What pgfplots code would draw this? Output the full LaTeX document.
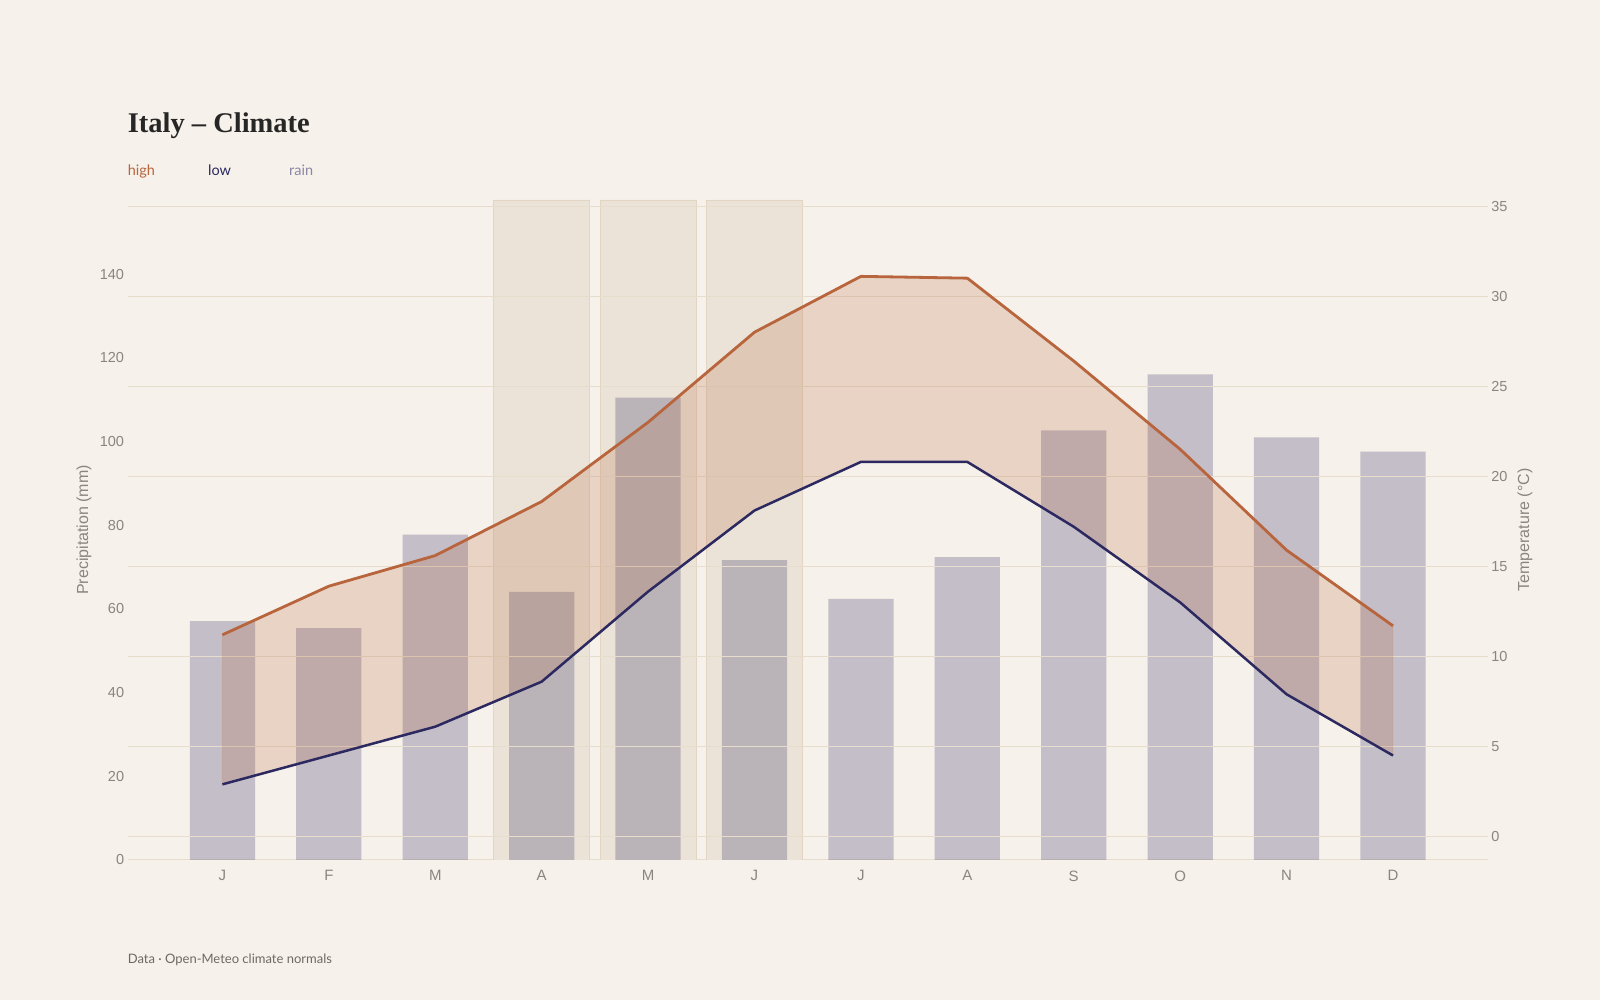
\documentclass[border=0pt]{standalone}
\usepackage{pgfplots}
\usepackage{pgfplotstable}
\pgfplotsset{compat=1.18}
\usepackage{fontspec}
\setmainfont{Liberation Sans}
\newfontfamily\titlefont{Liberation Serif}
\newfontfamily\labfont{Lato}

\definecolor{bg}{HTML}{F6F1EA}
\definecolor{hi}{HTML}{B8643C}
\definecolor{lo}{HTML}{2B2960}
\definecolor{rainc}{HTML}{8A87A6}
\definecolor{band}{HTML}{EBE3D7}
\definecolor{bandedge}{HTML}{E2D6C3}
\definecolor{gridc}{HTML}{E6DDCC}
\definecolor{tickc}{HTML}{8A857F}
\definecolor{srcc}{HTML}{6E6963}

% month index, precipitation (mm), high / low temperature (C)
\pgfplotstableread{
m rain high low
0  57.1 11.2  2.9
1  55.4 13.9  4.5
2  77.8 15.6  6.1
3  64.1 18.6  8.6
4 110.5 23.0 13.6
5  71.7 28.0 18.1
6  62.4 31.1 20.8
7  72.4 31.0 20.8
8 102.7 26.4 17.2
9 116.1 21.5 13.0
10 101.0 15.9  7.9
11  97.6 11.7  4.5
}\climate

% outline of the high-low range: highs Jan->Dec, then lows Dec->Jan
\pgfplotstableread{
m t
0 11.2
1 13.9
2 15.6
3 18.6
4 23.0
5 28.0
6 31.1
7 31.0
8 26.4
9 21.5
10 15.9
11 11.7
11 4.5
10 7.9
9 13.0
8 17.2
7 20.8
6 20.8
5 18.1
4 13.6
3 8.6
2 6.1
1 4.5
0 2.9
}\range

% highlighted months (A, M, J)
\pgfplotstableread{
m top
3 157.76
4 157.76
5 157.76
}\bands

\pgfplotsset{
  base/.style={
    at={(127.6pt,140pt)}, anchor=south west,
    width=1360.2pt, height=660pt, scale only axis,
    xmin=-0.891, xmax=11.891,
    major tick length=0pt,
    /pgf/number format/assume math mode=true,
    ticklabel style={font=\fontsize{14.5}{16}\selectfont, text=tickc},
    label style={font=\fontsize{16}{18}\selectfont, text=tickc},
  }
}

\begin{document}
\begin{tikzpicture}[x=1pt,y=1pt]
\fill[bg] (0,0) rectangle (1600,1000);

\node[anchor=base west, inner sep=0pt, text=black!85]
  at (127.6,867) {\titlefont\bfseries\fontsize{28.5}{32}\selectfont Italy – Climate};
\node[anchor=base west, inner sep=0pt, text=hi]
  at (127.6,824) {\labfont\fontsize{14.5}{16}\selectfont high};
\node[anchor=base west, inner sep=0pt, text=lo]
  at (208,824) {\labfont\fontsize{14.5}{16}\selectfont low};
\node[anchor=base west, inner sep=0pt, text=rainc]
  at (289,824) {\labfont\fontsize{14.5}{16}\selectfont rain};
\node[anchor=base west, inner sep=0pt, text=srcc]
  at (127.6,36) {\labfont\fontsize{13}{15}\selectfont Data · Open-Meteo climate normals};

% left axis: precipitation bars
\begin{axis}[base,
  ymin=0, ymax=157.76,
  axis x line*=bottom, axis y line*=left,
  y axis line style={draw=none},
  x axis line style={draw=gridc, line width=1pt},
  xtick={0,...,11},
  xticklabels={J,F,M,A,M,J,J,A,S,O,N,D},
  xticklabel style={yshift=-7pt, font=\fontsize{15}{17}\selectfont},
  ytick={0,20,...,140},
  ylabel={Precipitation (mm)},
  ylabel style={at={(axis description cs:-0.0321,0.5)}, anchor=center},
]
\addplot[ybar, bar shift=0pt, bar width=95.8pt, fill=band, draw=bandedge, line width=0.8pt]
  table[x=m, y=top] {\bands};
\addplot[ybar, bar shift=0pt, bar width=65.3pt, fill=lo, fill opacity=0.25, draw=none]
  table[x=m, y=rain] {\climate};
\end{axis}

% right axis: temperature range and lines (grid over the bars, under the lines)
\begin{axis}[base,
  ymin=-1.3, ymax=35.34,
  hide x axis, axis y line*=right,
  y axis line style={draw=none},
  ytick={0,5,...,35},
  ymajorgrids,
  grid style={draw=gridc, line width=1pt},
  ylabel={Temperature (°C)},
  ylabel style={at={(axis description cs:1.0274,0.5)}, anchor=center},
]
\addplot[fill=hi, fill opacity=0.21, draw=hi, draw opacity=0.12, line width=1pt]
  table[x=m, y=t] {\range} -- cycle;
\addplot[hi, line width=2.8pt, line join=round] table[x=m, y=high] {\climate};
\addplot[lo, line width=2.5pt, line join=round] table[x=m, y=low] {\climate};
\end{axis}
\end{tikzpicture}
\end{document}
